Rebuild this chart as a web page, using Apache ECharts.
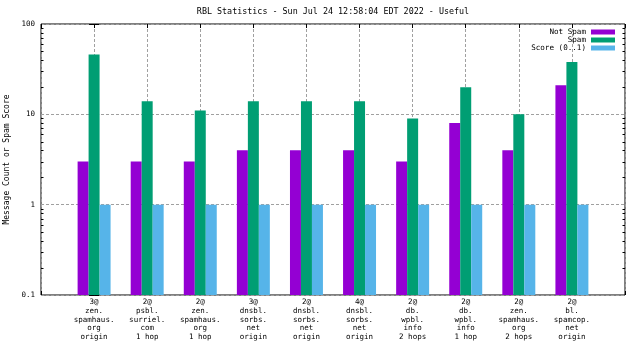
<!DOCTYPE html>
<html><head><meta charset="utf-8">
<script src="https://cdn.jsdelivr.net/npm/echarts@6/dist/echarts.min.js"></script>
<style>html,body{margin:0;padding:0;background:#fff}#c{width:640px;height:360px}</style>
</head><body><div id="c"></div>
<script>
const titleText = 'RBL Statistics - Sun Jul 24 12:58:04 EDT 2022 - Useful';
const yAxisName = 'Message Count or Spam Score';
const categories = [
  '3@\nzen.\nspamhaus.\norg\norigin',
  '2@\npsbl.\nsurriel.\ncom\n1 hop',
  '2@\nzen.\nspamhaus.\norg\n1 hop',
  '3@\ndnsbl.\nsorbs.\nnet\norigin',
  '2@\ndnsbl.\nsorbs.\nnet\norigin',
  '4@\ndnsbl.\nsorbs.\nnet\norigin',
  '2@\ndb.\nwpbl.\ninfo\n2 hops',
  '2@\ndb.\nwpbl.\ninfo\n1 hop',
  '2@\nzen.\nspamhaus.\norg\n2 hops',
  '2@\nbl.\nspamcop.\nnet\norigin'
];
const seriesNames = ['Not Spam', 'Spam', 'Score (0..1)'];
const notSpam = [3, 3, 3, 4, 4, 4, 3, 8, 4, 21];
const spam = [46, 14, 11, 14, 14, 14, 9, 20, 10, 38];
const score = [1, 1, 1, 1, 1, 1, 1, 1, 1, 1];
const yTickLabels = ['0.1', '1', '10', '100'];
const minorTicks = [0.2,0.3,0.4,0.5,0.6,0.7,0.8,0.9,2,3,4,5,6,7,8,9,20,30,40,50,60,70,80,90];

const Y_MIN = 0.1, Y_MAX = 100, X_MIN = -1, X_MAX = 10;
const FONT = 'DejaVu Sans Mono';
const COLORS = ['#9400d3', '#009e73', '#56b4e9'];
const BAR_FRAC = 0.207;

function barSeries(name, values, color, slot) {
  return {
    type: 'custom', name: name, coordinateSystem: 'cartesian2d',
    itemStyle: { color: color },
    encode: { x: 0, y: 1 },
    data: values.map((v, i) => [i, v]),
    renderItem: function (params, api) {
      const x = api.value(0), v = api.value(1);
      const top = api.coord([x, v]);
      const base = api.coord([x, Y_MIN]);
      const unit = api.coord([x + 1, v])[0] - top[0];
      const w = unit * BAR_FRAC;
      const x0 = top[0] + (slot - 1.5) * w;
      return { type: 'rect', shape: { x: x0, y: top[1], width: w, height: base[1] - top[1] }, style: { fill: color } };
    }
  };
}

const tickSeries = {
  type: 'custom', silent: true, coordinateSystem: 'cartesian2d',
  encode: { x: 0, y: 1 },
  data: minorTicks.map(v => [X_MIN, v]),
  renderItem: function (params, api) {
    const v = api.value(1);
    const l = api.coord([X_MIN, v]);
    const r = api.coord([X_MAX, v]);
    const y = Math.round(l[1]) + 0.5;
    return { type: 'group', children: [
      { type: 'line', shape: { x1: l[0], y1: y, x2: l[0] + 2.5, y2: y }, style: { stroke: '#000', lineWidth: 1 } },
      { type: 'line', shape: { x1: r[0] - 2.5, y1: y, x2: r[0], y2: y }, style: { stroke: '#000', lineWidth: 1 } }
    ] };
  }
};

const chart = echarts.init(document.getElementById('c'), null, { renderer: 'canvas' });
chart.setOption({
  animation: false,
  backgroundColor: '#fff',
  textStyle: { fontFamily: FONT, color: '#000' },
  title: {
    text: titleText, left: 333, top: 8, textAlign: 'center', padding: 0,
    textStyle: { fontFamily: FONT, fontSize: 8.4, fontWeight: 'normal', color: '#000' }
  },
  legend: {
    data: seriesNames.map(n => ({ name: n, icon: 'rect' })),
    orient: 'vertical', align: 'right', right: 25, top: 28, padding: 0,
    itemWidth: 24, itemHeight: 5, itemGap: 0,
    textStyle: { fontFamily: FONT, fontSize: 7.6, color: '#000', lineHeight: 8 },
    selectedMode: false
  },
  grid: { left: 41, right: 15, top: 24, bottom: 65, show: true, borderColor: '#000', borderWidth: 1, backgroundColor: 'transparent', containLabel: false, outerBoundsMode: 'none' },
  xAxis: [
    {
      type: 'value', min: X_MIN, max: X_MAX, interval: 1, position: 'bottom',
      axisLine: { show: false },
      axisTick: { show: true, inside: true, length: 4, lineStyle: { color: '#000' } },
      axisLabel: {
        fontFamily: FONT, fontSize: 7.5, lineHeight: 8.7, color: '#000', margin: 3,
        formatter: v => (v >= 0 && v < categories.length ? categories[v] : '')
      },
      splitLine: { show: true, lineStyle: { color: '#a0a0a0', type: [3, 2], width: 1 } }
    },
    {
      type: 'value', min: X_MIN, max: X_MAX, interval: 1, position: 'top',
      axisLine: { show: false },
      axisTick: { show: true, inside: true, length: 4, lineStyle: { color: '#000' } },
      axisLabel: { show: false }, splitLine: { show: false }
    }
  ],
  yAxis: [
    {
      type: 'log', logBase: 10, min: Y_MIN, max: Y_MAX, position: 'left',
      name: yAxisName, nameLocation: 'middle', nameRotate: 90, nameGap: 29,
      nameTextStyle: { fontFamily: FONT, fontSize: 8, color: '#000' },
      axisLine: { show: false },
      axisTick: { show: true, inside: true, length: 5, lineStyle: { color: '#000' } },
      axisLabel: {
        fontFamily: FONT, fontSize: 7.5, color: '#000', margin: 6,
        formatter: v => yTickLabels[Math.round(Math.log10(v)) + 1]
      },
      splitLine: { show: true, lineStyle: { color: '#a0a0a0', type: [3, 2], width: 1 } }
    },
    {
      type: 'log', logBase: 10, min: Y_MIN, max: Y_MAX, position: 'right',
      axisLine: { show: false },
      axisTick: { show: true, inside: true, length: 5, lineStyle: { color: '#000' } },
      axisLabel: { show: false }, splitLine: { show: false }
    }
  ],
  series: [
    barSeries(seriesNames[0], notSpam, COLORS[0], 0),
    barSeries(seriesNames[1], spam, COLORS[1], 1),
    barSeries(seriesNames[2], score, COLORS[2], 2),
    tickSeries
  ]
});
</script>
</body></html>
